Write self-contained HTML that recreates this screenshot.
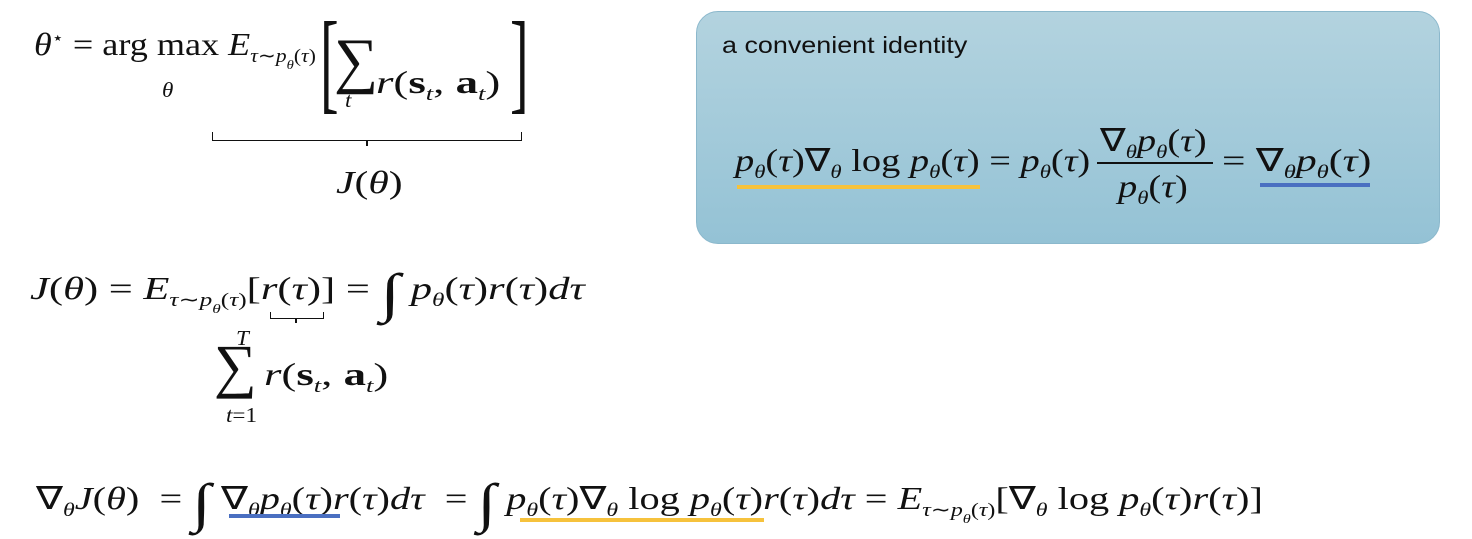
<!DOCTYPE html>
<html><head><meta charset="utf-8"><style>
body{margin:0;width:1472px;height:539px;background:#fff;position:relative;overflow:hidden;font-family:"Liberation Serif",serif;color:#111}
.m{position:absolute;font-size:32px;white-space:nowrap;line-height:1;transform-origin:0 0;transform:scaleX(var(--k,1.2))}
i{font-style:italic}
sub{font-size:19px;vertical-align:-7px}
.box{position:absolute;left:696px;top:11px;width:742px;height:231px;border-radius:22px;background:linear-gradient(#b3d3df,#94c2d5);border:1px solid #8bb8cc}
.ul{position:absolute;height:4px}
.br{position:absolute;border:1.5px solid #111;border-top:none}
.int{font-size:54px;vertical-align:-12px}
</style></head><body>
<div class="m" style="left:34px;top:28px;--k:1.13"><i>θ</i><sup style="font-size:17px">⋆</sup> = arg max <i>E</i><sub><i>τ</i>∼<i>p<sub style="font-size:13px">θ</sub></i>(<i>τ</i>)</sub></div>
<div class="m" style="left:162px;top:80px;font-size:21px;--k:1.1"><i>θ</i></div>
<div class="m" style="left:320px;top:6px;font-size:112px;--k:0.5;font-weight:100">[</div>
<div class="m" style="left:334px;top:30px;font-size:62px;--k:1">∑</div>
<div class="m" style="left:345px;top:90px;font-size:21px;--k:1.1"><i>t</i></div>
<div class="m" style="left:376px;top:66px;--k:1.4"><i>r</i>(<b>s</b><sub><i>t</i></sub>, <b>a</b><sub><i>t</i></sub>)</div>
<div class="m" style="left:510px;top:6px;font-size:112px;--k:0.5;font-weight:100">]</div>
<div class="br" style="left:212px;top:132px;width:308px;height:8px"></div>
<div style="position:absolute;left:366px;top:140px;width:2px;height:6px;background:#111"></div>
<div class="m" style="left:336px;top:166px;--k:1.3"><i>J</i>(<i>θ</i>)</div>

<div class="box"></div>
<div style="position:absolute;left:722px;top:32px;font-family:'Liberation Sans',sans-serif;font-size:23px;color:#111;transform-origin:0 0;transform:scaleX(1.17)">a convenient identity</div>
<div class="m" style="left:735px;top:144px;--k:1.2"><i>p<sub>θ</sub></i>(<i>τ</i>)∇<sub><i>θ</i></sub> log <i>p<sub>θ</sub></i>(<i>τ</i>) = <i>p<sub>θ</sub></i>(<i>τ</i>)</div>
<div class="m" style="left:1100px;top:124px;--k:1.2">∇<sub><i>θ</i></sub><i>p<sub>θ</sub></i>(<i>τ</i>)</div>
<div style="position:absolute;left:1097px;top:162px;width:116px;height:1.5px;background:#111"></div>
<div class="m" style="left:1118px;top:170px;--k:1.2"><i>p<sub>θ</sub></i>(<i>τ</i>)</div>
<div class="m" style="left:1222px;top:144px;--k:1.3">= ∇<sub><i>θ</i></sub><i>p<sub>θ</sub></i>(<i>τ</i>)</div>
<div class="ul" style="left:737px;top:185px;width:243px;background:#f6c23c"></div>
<div class="ul" style="left:1260px;top:183px;width:110px;background:#4a6fc1"></div>

<div class="m" style="left:30px;top:266px;--k:1.33"><i>J</i>(<i>θ</i>) = <i>E</i><sub><i>τ</i>∼<i>p<sub style="font-size:13px">θ</sub></i>(<i>τ</i>)</sub>[<i>r</i>(<i>τ</i>)] = <span class="int">∫</span> <i>p<sub>θ</sub></i>(<i>τ</i>)<i>r</i>(<i>τ</i>)<i>dτ</i></div>
<div class="br" style="left:270px;top:312px;width:52px;height:6px"></div>
<div style="position:absolute;left:295px;top:318px;width:2px;height:5px;background:#111"></div>
<div class="m" style="left:236px;top:328px;font-size:21px;--k:1.1"><i>T</i></div>
<div class="m" style="left:214px;top:336px;font-size:60px;--k:1">∑</div>
<div class="m" style="left:226px;top:405px;font-size:21px;--k:1.1"><i>t</i>=1</div>
<div class="m" style="left:264px;top:358px;--k:1.4"><i>r</i>(<b>s</b><sub><i>t</i></sub>, <b>a</b><sub><i>t</i></sub>)</div>

<div class="m" style="left:36px;top:476px;--k:1.26">∇<sub><i>θ</i></sub><i>J</i>(<i>θ</i>) &nbsp;= <span class="int">∫</span> ∇<sub><i>θ</i></sub><i>p<sub>θ</sub></i>(<i>τ</i>)<i>r</i>(<i>τ</i>)<i>dτ</i> &nbsp;= <span class="int">∫</span> <i>p<sub>θ</sub></i>(<i>τ</i>)∇<sub><i>θ</i></sub> log <i>p<sub>θ</sub></i>(<i>τ</i>)<i>r</i>(<i>τ</i>)<i>dτ</i> = <i>E</i><sub><i>τ</i>∼<i>p<sub style="font-size:13px">θ</sub></i>(<i>τ</i>)</sub>[∇<sub><i>θ</i></sub> log <i>p<sub>θ</sub></i>(<i>τ</i>)<i>r</i>(<i>τ</i>)]</div>
<div class="ul" style="left:229px;top:514px;width:111px;background:#4a6fc1"></div>
<div class="ul" style="left:520px;top:518px;width:244px;background:#f6c23c"></div>
</body></html>
